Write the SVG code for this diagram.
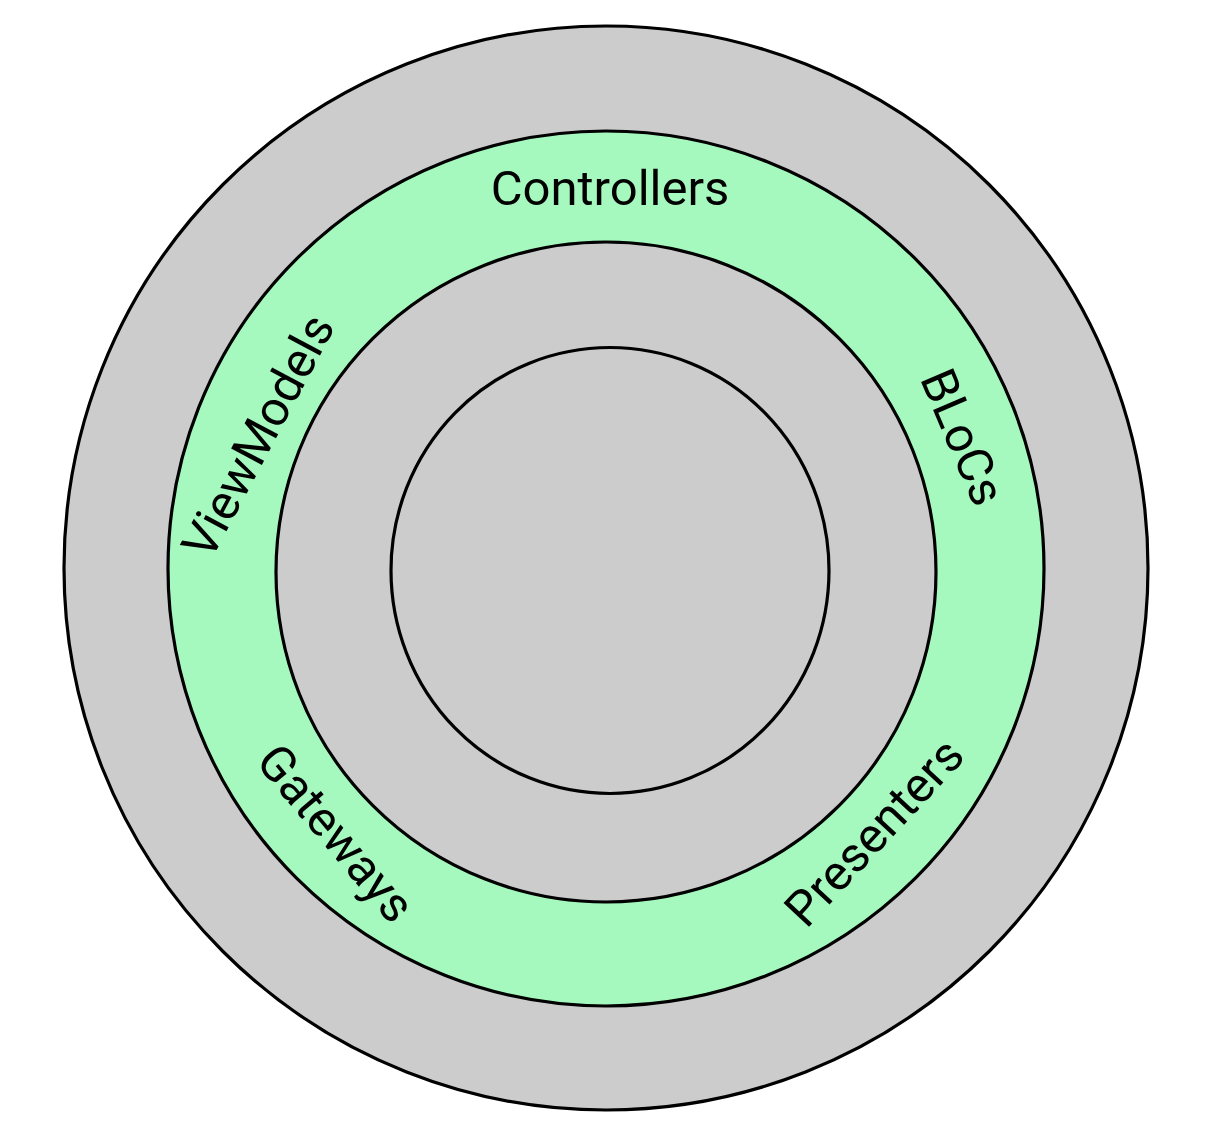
<svg xmlns="http://www.w3.org/2000/svg" width="1216" height="1144" viewBox="0 0 1216 1144">
<style>
.ring{stroke:#000;stroke-width:3.2}
.gray{fill:#cccccc}
.green{fill:#a6f9be}
.lbl{font-family:Roboto,"Liberation Sans",sans-serif;font-size:49px;fill:#000;text-anchor:middle}
</style>
<rect width="1216" height="1144" fill="#ffffff"/>
<g id="outer"><ellipse class="ring gray" cx="606" cy="568" rx="542" ry="542"/></g>
<g id="adapters"><ellipse class="ring green" cx="606" cy="568.5" rx="438" ry="437.5"/></g>
<g id="usecases"><ellipse class="ring gray" cx="606" cy="572" rx="330" ry="330"/></g>
<g id="core"><ellipse class="ring gray" cx="610" cy="570.5" rx="219" ry="223"/></g>
<g id="labels">
<text class="lbl" transform="translate(610,188)" y="17">Controllers</text>
<text class="lbl" transform="translate(258,436) rotate(-62)" y="17">ViewModels</text>
<text class="lbl" transform="translate(963,437) rotate(67)" y="17">BLoCs</text>
<text class="lbl" transform="translate(336,833) rotate(50)" y="17">Gateways</text>
<text class="lbl" transform="translate(874,832) rotate(-47)" y="17">Presenters</text>
</g>
<g id="connectors"/>
</svg>
